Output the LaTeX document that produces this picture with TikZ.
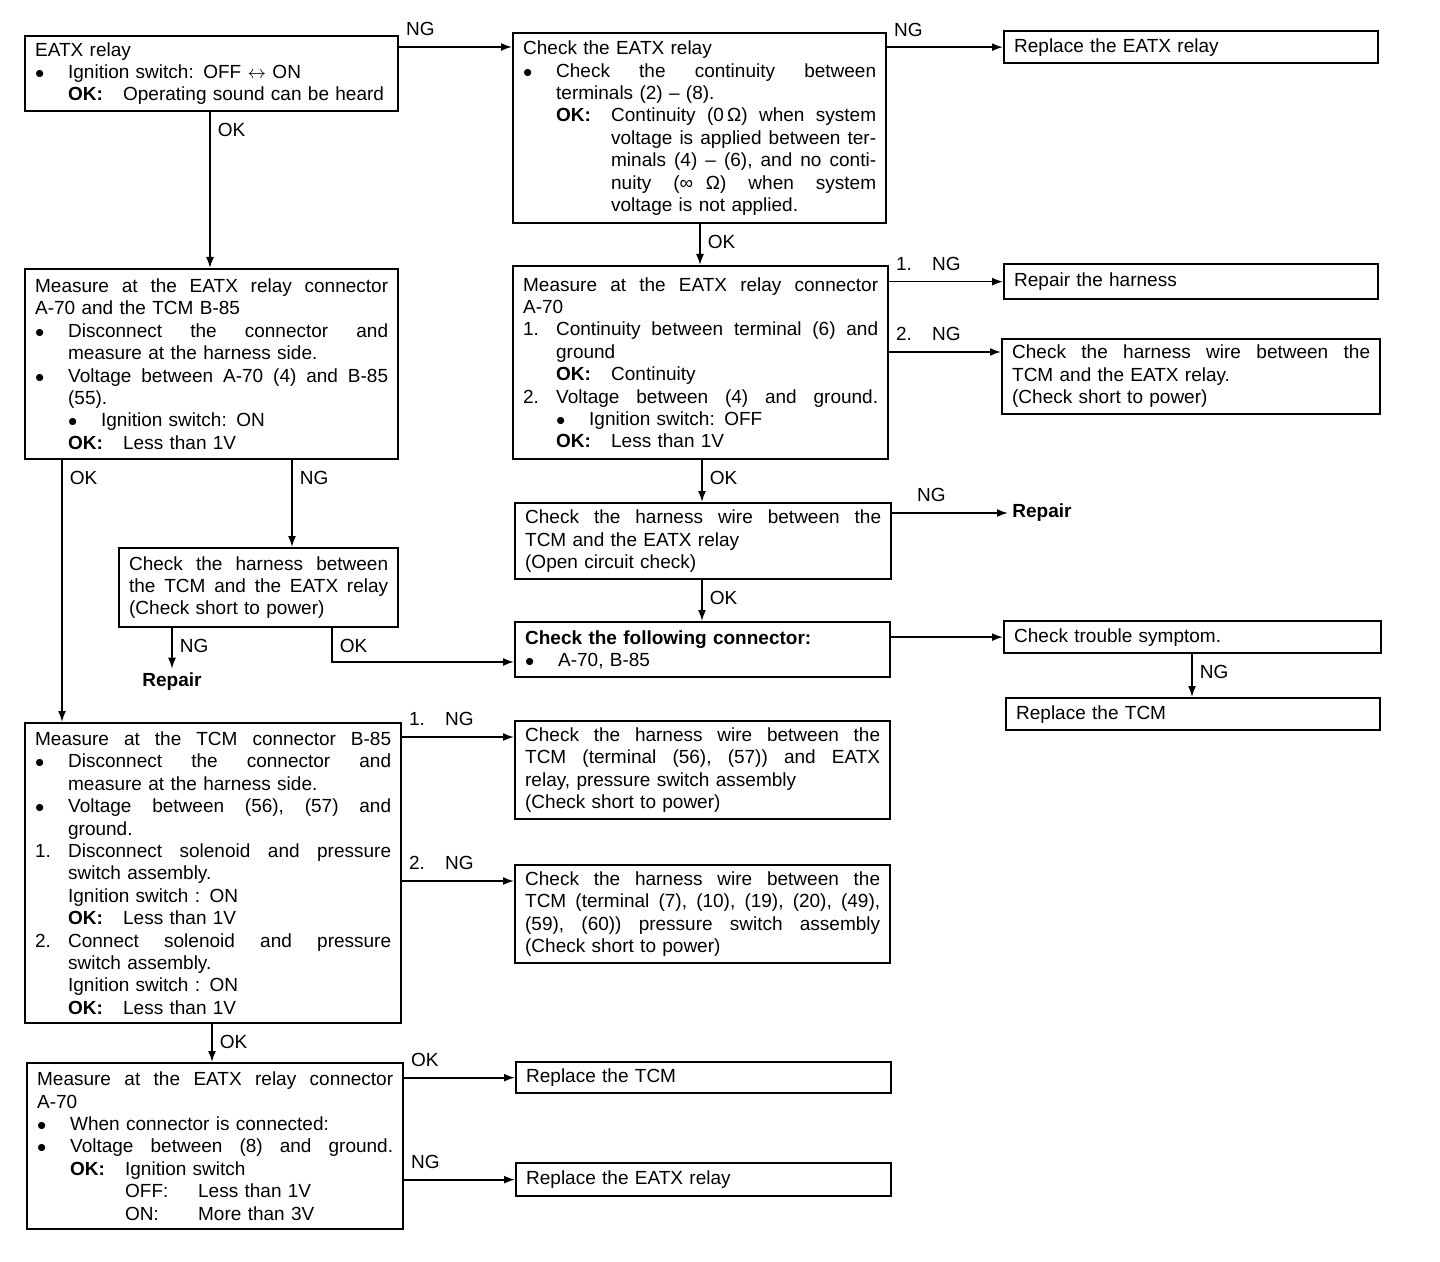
\documentclass[tikz,border=0pt]{standalone}
\usepackage{fontspec}
\setmainfont{Liberation Sans}
\usetikzlibrary{arrows.meta,positioning,calc}
\setlength{\parindent}{0pt}
\newcommand{\fs}{\fontsize{9.5pt}{11.2pt}\selectfont}
\newcommand{\bul}{\makebox[16.5pt][l]{$\bullet$}}
\newcommand{\indt}{\hspace*{16.5pt}}
\newcommand{\okind}{\hspace*{44pt}}
\newcommand{\stepno}[1]{\makebox[16.5pt][l]{#1}}
\newcommand{\okl}{\makebox[27.5pt][l]{\textbf{OK:}}}
\tikzset{
  stepbox/.style={draw=black, line width=1.15pt, anchor=north west, inner xsep=5pt, inner ysep=3pt, align=left, font=\fs},
  flow/.style={-{Latex[length=5.5pt,width=4pt]}, line width=0.85pt},
  hlbl/.style={font=\fs, inner sep=1pt, anchor=south west, xshift=2pt, yshift=4pt},
  vlbl/.style={font=\fs, inner sep=1pt, anchor=north west, xshift=2.5pt, yshift=-4pt},
  endtext/.style={font=\fs\bfseries, inner sep=2pt}
}

\begin{document}
\begin{tikzpicture}[x=0.5pt,y=-0.5pt]
  \useasboundingbox (0,0) rectangle (1440,1262);

  % left column
  \node[stepbox, text width=176.5pt, minimum height=37.5pt] (relay) at (24,35) {EATX relay\\
    \bul Ignition switch: OFF $\leftrightarrow$ ON\\
    \indt\okl Operating sound can be heard};
  \node[stepbox, text width=176.5pt, minimum height=95pt] (measab) at (24,268) {Measure\hfill at\hfill the\hfill EATX\hfill relay\hfill connector\\
    A-70 and the TCM B-85\\
    \bul Disconnect\hfill the\hfill connector\hfill and\\
    \indt measure at the harness side.\\
    \bul Voltage\hfill between\hfill A-70\hfill (4)\hfill and\hfill B-85\\
    \indt (55).\\
    \indt\bul Ignition switch: ON\\
    \indt\okl Less than 1V};
  \node[stepbox, text width=129.5pt, minimum height=39.5pt] (chkharn) at (118,547) {Check\hfill the\hfill harness\hfill between\\
    the\hfill TCM\hfill and\hfill the\hfill EATX\hfill relay\\
    (Check short to power)};
  \node[endtext] (repair2) at (172,682) {Repair};
  \node[stepbox, text width=178pt, minimum height=150pt] (meastcm) at (24,722) {Measure\hfill at\hfill the\hfill TCM\hfill connector\hfill B-85\\
    \bul Disconnect\hfill the\hfill connector\hfill and\\
    \indt measure at the harness side.\\
    \bul Voltage\hfill between\hfill (56),\hfill (57)\hfill and\\
    \indt ground.\\
    \stepno{1.}Disconnect\hfill solenoid\hfill and\hfill pressure\\
    \indt switch assembly.\\
    \indt Ignition switch : ON\\
    \indt\okl Less than 1V\\
    \stepno{2.}Connect\hfill solenoid\hfill and\hfill pressure\\
    \indt switch assembly.\\
    \indt Ignition switch : ON\\
    \indt\okl Less than 1V};
  \node[stepbox, text width=178pt, minimum height=83pt] (measfin) at (26,1062) {Measure\hfill at\hfill the\hfill EATX\hfill relay\hfill connector\\
    A-70\\
    \bul When connector is connected:\\
    \bul Voltage\hfill between\hfill (8)\hfill and\hfill ground.\\
    \indt\okl Ignition switch\\
    \okind\makebox[36.5pt][l]{OFF:}Less than 1V\\
    \okind\makebox[36.5pt][l]{ON:}More than 3V};

  % middle column
  \node[stepbox, text width=176.5pt, minimum height=95pt] (chkrelay) at (512,32) {Check the EATX relay\\
    \bul Check\hfill the\hfill continuity\hfill between\\
    \indt terminals (2) -- (8).\\
    \indt\okl Continuity\hfill (0\,Ω)\hfill when\hfill system\\
    \okind voltage\hfill is\hfill applied\hfill between\hfill ter-\\
    \okind minals\hfill (4)\hfill --\hfill (6),\hfill and\hfill no\hfill conti-\\
    \okind nuity\hfill (∞\ \ Ω)\hfill when\hfill system\\
    \okind voltage is not applied.};
  \node[stepbox, text width=177.5pt, minimum height=96.5pt] (measa70) at (512,265) {Measure\hfill at\hfill the\hfill EATX\hfill relay\hfill connector\\
    A-70\\
    \stepno{1.}Continuity\hfill between\hfill terminal\hfill (6)\hfill and\\
    \indt ground\\
    \indt\okl Continuity\\
    \stepno{2.}Voltage\hfill between\hfill (4)\hfill and\hfill ground.\\
    \indt\bul Ignition switch: OFF\\
    \indt\okl Less than 1V};
  \node[stepbox, text width=178pt, minimum height=38pt] (chkopen) at (514,502) {Check\hfill the\hfill harness\hfill wire\hfill between\hfill the\\
    TCM and the EATX relay\\
    (Open circuit check)};
  \node[stepbox, text width=177.5pt, minimum height=27.5pt] (chkconn) at (514,621) {\textbf{Check the following connector:}\\
    \bul A-70, B-85};
  \node[stepbox, text width=177.5pt, minimum height=49pt] (chkw56) at (514,720) {Check\hfill the\hfill harness\hfill wire\hfill between\hfill the\\
    TCM\hfill (terminal\hfill (56),\hfill (57))\hfill and\hfill EATX\\
    relay, pressure switch assembly\\
    (Check short to power)};
  \node[stepbox, text width=177.5pt, minimum height=49pt] (chkw7) at (514,864) {Check\hfill the\hfill harness\hfill wire\hfill between\hfill the\\
    TCM\hfill (terminal\hfill (7),\hfill (10),\hfill (19),\hfill (20),\hfill (49),\\
    (59),\hfill (60))\hfill pressure\hfill switch\hfill assembly\\
    (Check short to power)};
  \node[stepbox, text width=177.5pt, minimum height=15.5pt] (repltcm2) at (515,1061) {Replace the TCM};
  \node[stepbox, text width=177.5pt, minimum height=16.5pt] (replrelay2) at (515,1162) {Replace the EATX relay};

  % right column
  \node[stepbox, text width=177pt, minimum height=16pt] (replrelay) at (1003,30) {Replace the EATX relay};
  \node[stepbox, text width=177pt, minimum height=17.5pt] (repharn) at (1003,263) {Repair the harness};
  \node[stepbox, text width=179pt, minimum height=37pt] (chkshort) at (1001,338) {Check\hfill the\hfill harness\hfill wire\hfill between\hfill the\\
    TCM and the EATX relay.\\
    (Check short to power)};
  \node[endtext, anchor=west] (repair1) at (1008,513) {Repair};
  \node[stepbox, text width=178.5pt, minimum height=16pt] (symptom) at (1003,620) {Check trouble symptom.};
  \node[stepbox, text width=177pt, minimum height=16pt] (repltcm) at (1005,697) {Replace the TCM};

  % connection points
  \coordinate (ngrelay) at ($(relay.north east)+(0,12)$);
  \coordinate (okrelay) at ($(relay.south west)+(186,0)$);
  \coordinate (okchk) at ($(chkrelay.south west)+(188,0)$);
  \coordinate (ngtwo) at ($(measa70.north east)+(0,87)$);
  \coordinate (oka70) at ($(measa70.south west)+(190,0)$);
  \coordinate (okopen) at ($(chkopen.south west)+(188,0)$);
  \coordinate (ngsym) at ($(symptom.south west)+(189,0)$);
  \coordinate (okab) at ($(measab.south west)+(38,0)$);
  \coordinate (ngab) at ($(measab.south west)+(268,0)$);
  \coordinate (ngharn) at ($(chkharn.south west)+(54,0)$);
  \coordinate (okharn) at ($(chkharn.south west)+(214,0)$);
  \coordinate (inconn) at ($(chkconn.north west)+(0,41)$);
  \coordinate (ngtcm1) at ($(meastcm.north east)+(0,15)$);
  \coordinate (ngtcm2) at ($(meastcm.north east)+(0,159)$);
  \coordinate (oktcm) at ($(meastcm.south west)+(188,0)$);

  \draw[flow] (ngrelay) -- (ngrelay -| chkrelay.west) node[hlbl, pos=0] {NG};
  \draw[flow] (replrelay.west -| chkrelay.east) -- (replrelay.west) node[hlbl, pos=0] {NG};
  \draw[flow] (okrelay) -- (okrelay |- measab.north) node[vlbl, pos=0] {OK};
  \draw[flow] (okchk) -- (okchk |- measa70.north) node[vlbl, pos=0] {OK};
  \draw[flow] (repharn.west -| measa70.east) -- (repharn.west) node[hlbl, pos=0] {\makebox[18pt][l]{1.}NG};
  \draw[flow] (ngtwo) -- (ngtwo -| chkshort.west) node[hlbl, pos=0] {\makebox[18pt][l]{2.}NG};
  \draw[flow] (oka70) -- (oka70 |- chkopen.north) node[vlbl, pos=0] {OK};
  \draw[flow] (repair1.west -| chkopen.east) -- (repair1.west) node[hlbl, pos=0, xshift=9pt] {NG};
  \draw[flow] (okopen) -- (okopen |- chkconn.north) node[vlbl, pos=0] {OK};
  \draw[flow] (symptom.west -| chkconn.east) -- (symptom.west);
  \draw[flow] (ngsym) -- (ngsym |- repltcm.north) node[vlbl, pos=0] {NG};
  \draw[flow] (okab) -- (okab |- meastcm.north) node[vlbl, pos=0] {OK};
  \draw[flow] (ngab) -- (ngab |- chkharn.north) node[vlbl, pos=0] {NG};
  \draw[flow] (ngharn) -- (repair2.north) node[vlbl, pos=0] {NG};
  \draw[flow] (okharn) |- (inconn) node[vlbl, pos=0] {OK};
  \draw[flow] (ngtcm1) -- (ngtcm1 -| chkw56.west) node[hlbl, pos=0] {\makebox[18pt][l]{1.}NG};
  \draw[flow] (ngtcm2) -- (ngtcm2 -| chkw7.west) node[hlbl, pos=0] {\makebox[18pt][l]{2.}NG};
  \draw[flow] (oktcm) -- (oktcm |- measfin.north) node[vlbl, pos=0] {OK};
  \draw[flow] (repltcm2.west -| measfin.east) -- (repltcm2.west) node[hlbl, pos=0] {OK};
  \draw[flow] (replrelay2.west -| measfin.east) -- (replrelay2.west) node[hlbl, pos=0] {NG};
\end{tikzpicture}
\end{document}
